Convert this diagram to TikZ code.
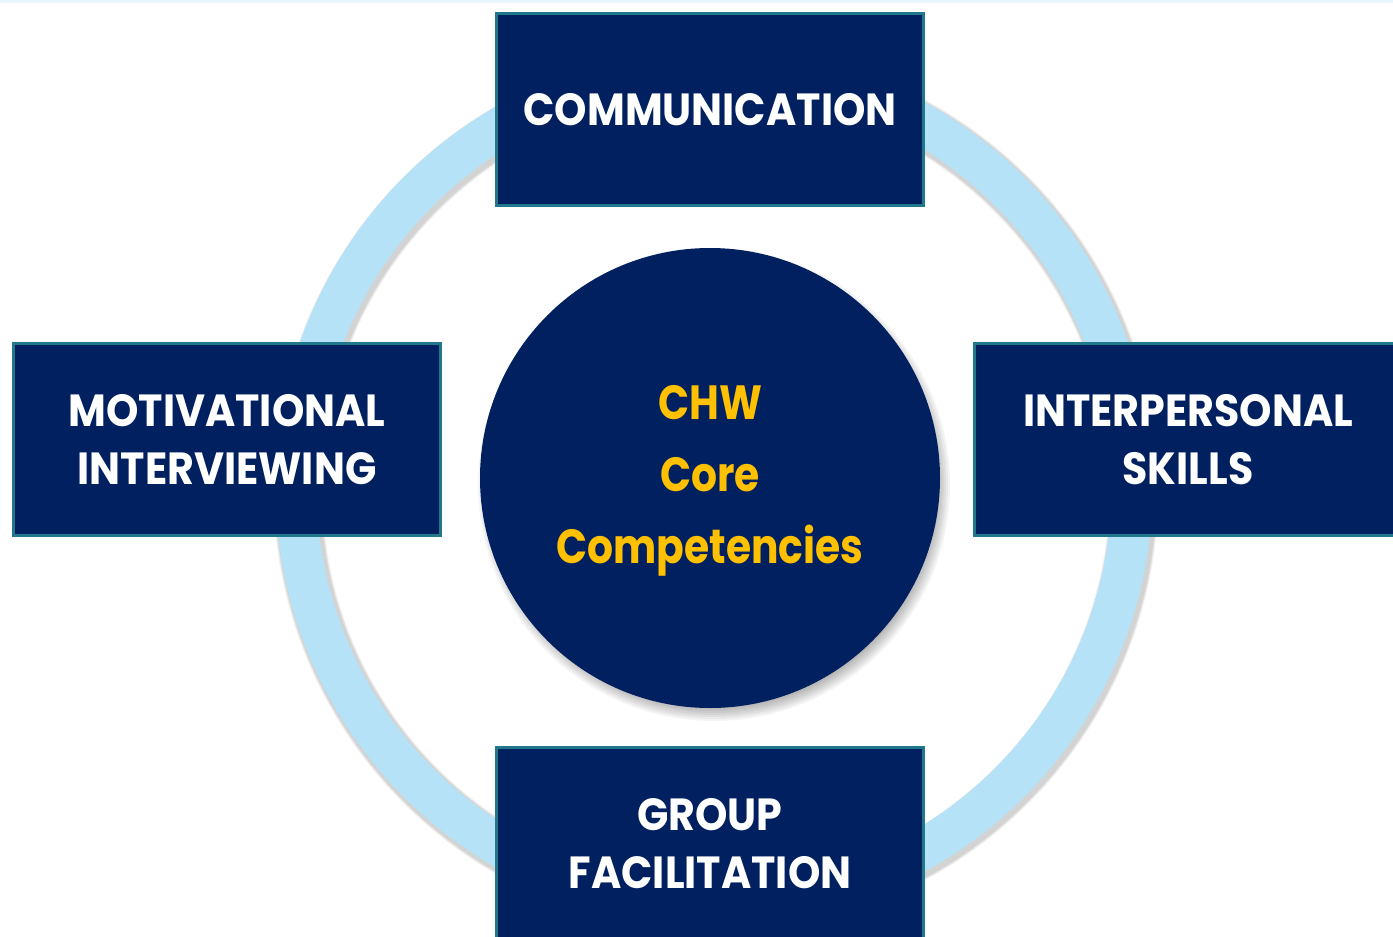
\documentclass[tikz,border=0pt]{standalone}
\usepackage{fontspec}
\setmainfont{Poppins}
\newfontfamily\boxfont{Poppins}[FakeStretch=0.915]
\newfontfamily\corefont{Poppins}[FakeStretch=0.85]
\definecolor{navy}{HTML}{002060}
\definecolor{boxedge}{HTML}{22788B}
\definecolor{ringblue}{HTML}{B5E2F6}
\definecolor{gold}{HTML}{FFC000}
\definecolor{topband}{HTML}{EAF6FC}
\tikzset{
  skillbox/.style={draw=boxedge, line width=3pt, fill=navy, minimum width=427pt,
    minimum height=192pt, inner sep=0pt, text=white, align=center,
    font=\boxfont\fontsize{45}{58}\selectfont\bfseries},
  corecircle/.style={circle, fill=navy, minimum size=460pt, inner sep=0pt,
    text=gold, align=center, font=\corefont\fontsize{48}{72}\selectfont\bfseries}
}
\begin{document}
\begin{tikzpicture}[x=1pt,y=-1pt]
\useasboundingbox (0,0) rectangle (1393,937);
\clip (0,0) rectangle (1393,937);
\fill[white] (0,0) rectangle (1393,937);
\fill[topband] (0,0) rectangle (1393,3);
% ring
\coordinate (rc) at (714,487);
\coordinate (rcs) at (716,490);
\foreach \w in {49,47,45} {
  \draw[black, opacity=0.06, line width=\w pt] (rcs) circle[radius=418];
}
\draw[ringblue, line width=41pt] (rc) circle[radius=418];
% core circle shadow
\coordinate (cs) at (714,485);
\foreach \r in {224,226,...,236} {
  \fill[black, opacity=0.045] (cs) circle[radius=\r];
}
\node[corecircle] (core) at (710,478) {};
\node[text=gold, align=center, font=\corefont\fontsize{48}{72}\selectfont\bfseries]
  (coretext) at (710,481) {CHW\\Core\\Competencies};
% boxes
\node[skillbox] (comm) at (710,109.5) {COMMUNICATION};
\node[skillbox] (motiv) at (227,439.5) {MOTIVATIONAL\\INTERVIEWING};
\node[skillbox] (inter) at (1188,439.5) {INTERPERSONAL\\SKILLS};
\node[skillbox] (group) at (710,843.5) {GROUP\\FACILITATION};
\end{tikzpicture}
\end{document}
